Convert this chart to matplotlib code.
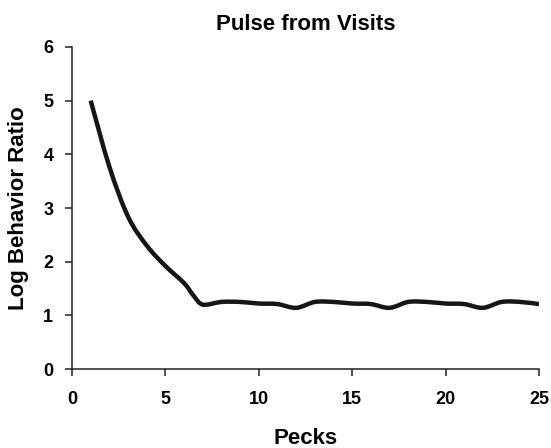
import numpy as np
import matplotlib
matplotlib.use('Agg')
import matplotlib.pyplot as plt
from matplotlib.path import Path
from matplotlib.patches import PathPatch

pecks = [1, 2, 3, 4, 5, 6, 6.5, 7, 8, 9, 10, 11, 12, 13, 14, 15, 16, 17, 18,
         19, 20, 21, 22, 23, 24, 25]
ratio = [5.0, 3.77, 2.84, 2.3, 1.92, 1.6, 1.37, 1.2, 1.25, 1.25, 1.22, 1.21,
         1.14, 1.25, 1.25, 1.22, 1.21, 1.14, 1.25, 1.25, 1.22, 1.21, 1.14,
         1.25, 1.25, 1.21]
xticks = [0, 5, 10, 15, 20, 25]
yticks = [0, 1, 2, 3, 4, 5, 6]


def smooth_path(x, y, t=0.5):
    # Excel-style smoothed line as cubic Bezier segments (Catmull-Rom control points)
    x = np.asarray(x, float)
    y = np.asarray(y, float)
    n = len(x)
    verts = [(x[0], y[0])]
    codes = [Path.MOVETO]
    for i in range(n - 1):
        i0 = max(i - 1, 0)
        i3 = min(i + 2, n - 1)
        c1 = (x[i] + (x[i + 1] - x[i0]) * t / 3, y[i] + (y[i + 1] - y[i0]) * t / 3)
        c2 = (x[i + 1] - (x[i3] - x[i]) * t / 3, y[i + 1] - (y[i3] - y[i]) * t / 3)
        verts += [c1, c2, (x[i + 1], y[i + 1])]
        codes += [Path.CURVE4] * 3
    return Path(verts, codes)


plt.rcParams['font.family'] = ['Liberation Sans', 'DejaVu Sans']
plt.rcParams['font.weight'] = 'bold'

fig = plt.figure(figsize=(5.51, 4.48), dpi=100)
ax = fig.add_axes([0.1307, 0.1763, 0.8475, 0.7188])

ax.add_patch(PathPatch(smooth_path(pecks, ratio), facecolor='none',
                       edgecolor='#161616', linewidth=3.2, capstyle='butt'))

ax.set_xlim(0, 25)
ax.set_ylim(0, 6)
ax.set_xticks(xticks)
ax.set_yticks(yticks)
ax.spines['top'].set_visible(False)
ax.spines['right'].set_visible(False)
for s in ('left', 'bottom'):
    ax.spines[s].set_linewidth(1.1)
    ax.spines[s].set_color('#222222')
ax.tick_params(direction='out', length=5, width=1.1, color='#222222',
               labelsize=13)
ax.tick_params(axis='x', pad=10.5)
ax.tick_params(axis='y', pad=8.5)
for lab in ax.get_xticklabels() + ax.get_yticklabels():
    lab.set_fontweight('bold')

ax.set_title('Pulse from Visits', fontsize=16, fontweight='bold', pad=12.5)
ax.set_xlabel('Pecks', fontsize=16, fontweight='bold', labelpad=14.5)
ax.set_ylabel('Log Behavior Ratio', fontsize=16, fontweight='bold', labelpad=10)

fig.savefig('out.png', dpi=100)
